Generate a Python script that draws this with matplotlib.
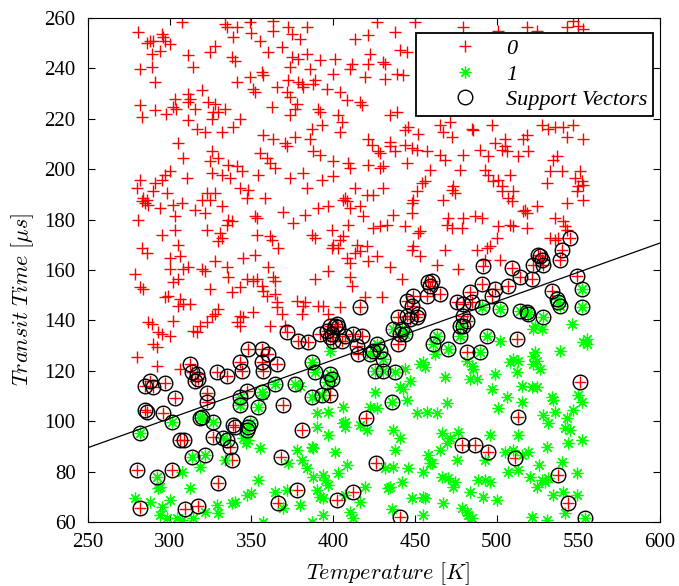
import matplotlib
matplotlib.use("Agg")
import matplotlib.pyplot as plt
import numpy as np

# ---------------- data ----------------
red_pts = [
(307.3,258.4),(333.8,257.6),(335,256.5),(341,256.4),(349,258.4),(363,259),(280.6,254.4),(295,253.5),(296,252.5),(288,251),(286,250),(290,251),(300,249.7),(297,251),(294,247),(289,245.7),(339,252.5),(350,254),(355,251),(363,255),(327.7,249),(324.7,246.5),(360,246.5),(311,245.3),(338,244.5),(340,243),(282,239.8),(289,240.5),(314,240.5),(341,234.6),(349,236.6),(356.5,238.6),(357,237.4),(351,231.8),(352,230.6),(365.7,232.6),(291,234.6),(319.8,231.4),(311,229.8),(312.4,227.9),(311,226.7),(303,227.9),(282,225.5),(291,223.5),(283,220.7),(298,222),(304,224),(302,224.7),(323.4,226.7),(327.7,225.9),(333.8,223.9),(326.5,222.7),(326,220),(329.6,222.7),(315.5,224),(311,219.5),(343,220),(338.7,216.7),(332,214.8),(317,216),(321.6,214.8),(362.6,224.7),(357,213.6),(363,212),
(372.4,256.4),(375,253.7),(384,256.4),(379.7,251.7),(427,258.4),(450,258.4),(438,254.4),(421.4,253.3),(413.4,251.7),(368.7,248.5),(441,247.3),(445,246.5),(422.6,245.7),(375,244.5),(378.5,243.7),(384,245.7),(392,243.3),(401,243.7),(411.6,241.7),(410.3,239.8),(421.4,241.7),(430.5,242.5),(431.8,241.7),(373.6,240.5),(385.8,239.8),(400,237.8),(419.5,236.6),(431.8,235.8),(439,237.8),(442.8,237.4),(372.4,235.4),(378.5,234.6),(381.6,232.6),(381,233.8),(389,235.4),(387.7,233.8),(396.3,231.8),(404,230.6),(408.5,227.5),(371.8,230.6),(373.6,228.6),(416.5,226.7),(417.7,225.5),(378,225.9),(376.7,224),(390.8,224),(392,222.7),(373.6,221.5),(403,221.5),(405.4,218.7),(439,222.7),(434.8,221.5),(393,217.5),(387,216),(404,214.8),(445.8,216.7),(444,215.5),(452,214),(376.7,212.8),(385.8,212),(421.4,212),(434.8,210.8),
(479.5,256.4),(501,255),(518.7,256.4),(524.8,255),(543,256.4),(546.8,259),(549.9,257),(553,255.6),
(465.4,217.5),(471.5,218.7),(467.3,214.8),(472.8,212.8),(485,216),(485.6,215.5),(497.2,217.5),(505,212),(518.7,213.6),(516.2,212),(527.8,217.5),(531.5,216),(535.8,216.7),(540.7,216.7),(546.8,217.5),(543,212.8),(553,212),
(305,210.4),(325.9,207.2),(324.7,203.3),(329.6,204.4),(308,204.4),(355,206.4),(359.5,204.4),(361.4,202.5),(364.4,200.5),(335.7,201.7),(341,201.3),(344,199.3),(325.9,198.5),(332,197.7),(337,196.5),(310.6,196.5),(354,197.7),(300,199.3),(297,197.7),(295.3,195.7),(281.8,195.7),(291,194.5),(280,192.5),(289.8,191.3),(298.3,190.6),(283.7,188.6),(285,186.6),(286.7,185.8),(286,187.8),(283,187.4),(294,184.6),(302,185.8),(307.5,186.6),(322.8,190.6),(327.7,190.6),(324.7,187.8),(319.8,187.8),(315.5,183.8),(321.6,182.6),(332,185.4),(343,192.5),(348,191.7),(347,188.6),(358.3,188.6),(303,181.4),(280.6,179.8),(335.7,179.8),(338,179.4),(335,177.9),(352,181.4),(353.4,180.6),(303,175.9),(322.8,175.9),(330.8,174.7),(332,172.7),(329.6,171.5),(295.3,173.9),(353.4,173.9),(361.4,173.5),(362.6,171.9),(305,169.9),(283,168.7),(286,166.7),(366.3,168.7),(300,164.8),(306,165.6),(327.7,163.6),(345,164.8),(352,166),
(370.6,210.4),(371.8,209.2),(423.8,209.6),(434.8,209.2),(437.9,207.2),(444,209.6),(448.3,208.4),(451.3,207.6),(457.5,207.2),(387.7,207.2),(392,205.6),(427.5,207.2),(428.7,206.4),(400,203.3),(409,202.5),(410.3,200.5),(421.4,201.7),(428.7,200.5),(430.5,201.3),(445,202.5),(459.3,199.7),(381.6,198.5),(373.6,196.5),(400,197.3),(393,195.7),(384,192.5),(413.4,192.5),(430.5,192.5),(454.4,194.5),(456.2,195.3),(451.3,191.3),(407.3,188.6),(408.5,187.4),(406,187.8),(420.7,189.8),(424.4,189.8),(448.9,187.8),(448.3,186.6),(396.9,185.4),(390.8,184.6),(410.3,184.6),(416.5,185.4),(418.3,181.4),(369.5,183),(382.8,181.8),(375.5,178.7),(436.6,181.8),(448.3,182.6),(409,177.9),(399.3,175.9),(424.4,176.7),(428.7,177.5),(433,177.9),(444,177.5),(387,173.9),(389,172.7),(406,173.5),(404,171.9),(452,174.7),(453.2,175.5),(400,169.9),(403,168.7),(399.3,168.7),(414.6,169.9),(416.5,167.5),(413.4,166.7),(420.7,169.5),(448.9,169.5),(448.3,168),(408.5,164.8),(410.3,162.8),(426.9,165.6),(421.4,163.6),(453.2,165.6),
(499,210.4),(505.2,209.2),(506.4,207.2),(503.4,207.6),(519.3,207.2),(489.9,207.6),(494.8,205.2),(513.2,205.2),(465.4,205.6),(468.5,203.7),(479.5,205.6),(477.7,199.7),(493,199.7),(494.8,197.7),(497.9,195.3),(503.4,193.3),(501,195.7),(508.3,197.7),(537,205.2),(534.6,203.7),(532.7,199.3),(540,199.3),(551,199.3),(548,196.5),(552.3,195.3),(553,193.7),(550,193.3),(549.3,191.3),(531,194.5),(473.4,193.3),(474.6,190.6),(472.8,191.7),(467.3,187.8),(503.4,191.3),(510.1,191.3),(507,188.6),(509.5,187.4),(543.1,186.6),(553,187.8),(517.4,183.8),(516.2,183.4),(518.7,182.6),(524.8,185.4),(486.8,181.4),(491.1,180.6),(479.5,180.6),(470.3,180.6),(469.7,177.9),(472.8,176.7),(478.9,176.7),(501,177.5),(508.3,177.9),(510.1,177.5),(518.7,176.7),(535.8,180.6),(540.7,179.4),(542,177.5),(543.1,175.9),(500.3,172.7),(468.5,167.9),(488,167.9),(494.2,168.7),(496,169.5),(502.1,164),(493,164),(532.7,172.7),(535.8,171.9),(537.6,172.7),(463.6,162),
(300,160.4),(308,160.4),(311,161.2),(319.8,160.4),(321.6,159.6),(278.8,158.4),(335,161.2),(335.7,157.2),(363.2,157.2),(364.4,155.6),(360,161.2),(302,155.2),(305,156.4),(281.8,153.3),(283.7,152.5),(324.7,152.5),(338,151.3),(343,153.3),(347.3,156.4),(351,155.6),(353.4,156.4),(356.5,153.7),(357,151.7),(359.5,149.7),(364.4,150.5),(297,149.3),(298.9,149.7),(306,148.5),(308,146.5),(305,145.7),(312.4,146.5),(365.7,147.3),(365.7,145.3),(329.6,144.5),(327.7,142.5),(326,141.7),(323,139.4),(351,143.3),(343,141.7),(345,141.3),(341,139.4),(343,137.8),(286.7,139.4),(289,138.6),(302,139.8),(292.8,135.4),(295.3,134.6),(300,133.8),(314.3,135.8),(316.7,135.4),(318.5,137.8),(361.4,137.8),(289.8,130.6),(292.2,129.4),(280,125.5),(292.2,121.9),(306,120.7),
(396.9,159.6),(389,156.4),(410.3,157.2),(411.6,153.7),(434.8,161.2),(442.1,156.4),(419.5,149.3),(430,149.3),(378,147.7),(382.8,147.3),(381.6,145.7),(390.8,145.7),(393.8,145.7),(404,145.3),(381,142.5),(396.9,142.5),(368.7,142.5),(370.6,137.8),(476.4,160.4),
]

green_pts = [
(398.1,127.9),(379.7,114),(444,120.7),(447,116),(441,113.6),(442.8,112.8),(453.2,122.7),(455,123.5),(456.2,121.5),
(546.2,138.6),(523.6,137.8),(527.8,136.6),(522.3,136.6),(555.4,132.6),(555.4,130.6),(553,131.4),(502,131.8),(538.8,127.9),(523.6,127.5),(522.3,125.9),(510,124.7),(513.2,124),(508.3,123.5),(524.8,124),(522.3,122.7),(526.6,120.7),(485,121.9),(485.6,120.7),(488,116.7),(483.8,116.7),(482,124),(499,118.7),(512.6,119.5),(468.5,117.5),(497.2,112.8),(515.6,114),(521.7,113.6),(524.8,113.6),(462.4,126.7),
(357,110.4),(307.5,79.8),(318.5,81.8),(354,76.7),(312.4,73.5),(294,74),(292.8,73.5),(278.8,69.5),(288,67.9),(300,68.7),(295.3,66),(294,62.8),(298.3,61.6),(304.4,61.6),(307.5,60.8),(314.3,61.6),(321.6,64),(329,66.7),(329.6,63.6),(338,67.5),(340,67.9),(347.3,70.7),(350,71.5),(364.4,72),(357,60),(345,93.3),(348,92.5),(346.7,91.3),(355,89.4),(333.8,84.6),
(425.6,111.6),(445.2,108.4),(406,105.6),(422.6,105.6),(426.9,105.2),(390.2,103.3),(397,103.7),(451.3,103.3),(457.5,103.7),(407.3,99.7),(406,99.3),(407.3,97.7),(390.2,97.7),(416.5,98.5),(420.7,96.5),(397,94.5),(436.6,96.5),(441,93.3),(437.9,88.6),(387,89.7),(387.7,89.4),(377.9,88.6),(401.2,87.8),(381,84.6),(372.4,83.4),(408.5,82.6),(384,81.4),(387.7,77.8),(393.8,78.6),(395,76.7),(403,79.4),(397,74.7),(390.2,72.7),(392,69.9),(393.8,69.5),(371.8,72.7),(431.8,81.4),(436.6,81.8),(445.8,81.4),(455,79.8),(459.3,83.4),(458,86.6),(433.6,73.5),(434.8,73.9),(442.2,75.9),(419.5,73.9),(416.5,68),(407.3,70.7),(379.7,66.7),(369.3,65.5),(393.8,62.8),(410.3,64),(412.2,61.6),(448.3,69.5),(455,70),(456.2,69.5),(436,65.2),(455,62.8),(387,60),
(506.4,109.6),(515.6,107.6),(469.7,107.2),(463.6,103.3),(501,105.2),(534,109.6),(534.6,108.4),(549.9,110.4),(552.3,107.6),(528.5,102.5),(531.5,99.3),(535.8,103.7),(546.8,104.4),(543.1,101.3),(542,97.3),(545,96.5),(552.3,92.5),(543.8,91.3),(466.6,95.3),(476.4,95.7),(471.5,93.3),(469.7,91.3),(465.4,88.6),(496,94.5),(513.2,94.5),(505.2,87.8),(510.1,88.6),(519.3,87.8),(515.6,86.6),(530.9,89.7),(475.8,84.6),(460.5,83.4),(493,84.6),(526,82.6),(540,83.8),(466.6,77.8),(470.3,77.4),(474.6,75.9),(473.4,73.9),(488.7,76.7),(493,76.7),(496,75.9),(507,79.8),(513.2,80.6),(520.5,77.8),(527.8,76.7),(529.7,75.9),(531.5,77.4),(549.3,79.4),(524.8,73.9),(483.8,72),(491.7,69.9),(500.3,68.7),(534.6,70.7),(540.7,72),(549.3,70.7),(467.3,67.5),(478.9,65.5),(482,64),(482.6,62.8),(485,61.6),(483.8,60),(521.7,62),(530.9,60.8),(542,63.6),
]

# support vectors: (temperature, transit time, class)
sv_pts = [
(545,172.7,0),(540,167.9,0),(538.8,164,0),(526.6,165.6,0),(525.4,166,0),(527.8,164,0),(522.3,162,0),(528.5,162,0),(491.7,161.4,0),(509.5,160.8,0),
(514.4,157.2,0),(521.7,156.4,0),(549.3,157.6,0),(465.4,150.5,0),(483.8,151.3,0),(491.1,154.4,0),(499,152.5,0),(497.2,149.7,0),(507,153.7,0),(534,151.7,0),(537,148.5,1),(537.6,147.3,1),(538.8,145.7,1),(552.3,152.5,1),(552.3,145.3,1),(475.8,147.3,0),(479.5,146.5,0),(485,147.3,0),(491.1,145.3,1),(479.5,141.7,0),(482,139.8,0),(477.7,137.8,1),(479.5,137.8,0),(514.4,143.7,1),(518.7,143.3,1),(519.3,142.5,1),(528.5,141.3,1),(477.7,133.8,1),(494.2,133.8,1),(463.6,133.8,1),(461.2,130.6,1),(470.3,128.6,1),(512.6,132.6,0),(482,127.5,0),(490,127.5,1),(551,115.5,0),(502,144.5,1),
(458,155.2,0),(459.3,153.7,0),(460.5,155.6,0),(448.9,149.7,0),(457.5,149.7,0),(416.5,145.3,0),(445,147.7,0),(448.3,145.7,0),(452,142.5,0),(451.3,141.3,0),(447,140.5,0),(445,141.7,0),(439.7,141.3,0),(398.1,137.8,0),(401.2,137.8,0),(402.4,138.6,0),(403,137.4,0),(396.3,135.8,0),(399.3,134.6,0),(398.1,133.4,0),(400,131.8,0),(405.4,131.8,0),(407.3,133.8,0),(412.2,134.6,0),(417.7,133.8,0),(392,134.6,0),(384.6,131.4,0),(378.5,131.8,0),(371.8,135.4,0),(442.1,136.6,1),(444,134.6,1),(441,134.6,0),(436.6,136.6,1),(414.6,129.8,0),(415.2,126.7,0),(439.7,130.6,0),(426.9,130.6,1),(428.7,127.9,1),(424.4,127.9,0),(422.6,126.7,1),(430.5,124.7,1),(425.6,120,1),(430.5,120,1),(437.9,119.5,1),(387,123.5,1),(389,119.5,1),(398.1,118.7,1),(399.3,116.7,1),(396.3,115.5,1),(376.7,114.8,1),
(348,128.6,0),(356.5,128.6,0),(360,126.7,0),(343,123.5,0),(344,120,0),(356.5,123.5,0),(357,120,0),(365.7,122.7,0),(312.4,122.7,0),(313.6,119.5,0),(316.7,118.7,0),(317.3,116.7,0),(315.5,116,0),(329,119.5,0),(335,117.9,0),(288,116,0),(285,114,0),(289.8,113.6,0),(297,115,0),(347.3,112,0),(364.4,114.8,1),(356.5,111.6,1),
(303,109.2,0),(285,104.4,0),(286,103.6,0),(295.9,103.2,0),(301.4,99.7,1),(281.8,95.3,1),(318.5,101.3,1),(319.8,101.7,1),(326.5,99.7,1),(322.8,107.6,0),(322.8,111.2,0),(343,109.6,1),(343,106.4,1),(354,105.6,1),(326.5,93.7,0),(335,92.5,1),(332.6,93.3,1),(336.9,89.7,0),(338.7,98.5,0),(340,97.7,0),(347.9,97.7,1),(349,99.3,1),(347.3,96.5,1),(306,92.5,0),(309,92.5,0),(313.6,85.8,1),(321.6,86.6,1),(338,84.6,0),(368,85.8,0),(280,80.6,0),(292.2,78,1),(301.4,80.6,0),(329.6,75.5,0),(366.5,67.7,0),(281.8,65.6,0),(309.4,65.2,0),(317.3,66.3,0),
(369.3,106.4,0),(387,109.6,1),(393,110.4,1),(398,110.4,0),(436,107.6,1),(420,101.3,0),(381,96.7,0),(426.3,83.4,0),(377.9,72.7,0),(412,72,0),(402.4,68.7,0),(441,62,0),
(513.2,101.7,0),(478.9,90.6,0),(487,90.6,0),(494.8,87.8,0),(511.3,85.4,0),(537.6,78.7,0),(543.8,67.6,0),(554.2,61.6,1),
]

boundary_x = [250, 600]
boundary_y = [89.5, 170.7]

legend_labels = ["0", "1", "Support Vectors"]
x_ticks = [250, 300, 350, 400, 450, 500, 550, 600]
y_ticks = [60, 80, 100, 120, 140, 160, 180, 200, 220, 240, 260]

# ---------------- plot ----------------
plt.rcParams['mathtext.fontset'] = 'cm'
plt.rcParams['font.family'] = ['Liberation Serif', 'DejaVu Serif']

fig = plt.figure(figsize=(6.79, 5.86), dpi=100)
ax = fig.add_axes([88/679, 1-522/586, 572/679, 504/586])

red = np.array(red_pts)
green = np.array(green_pts)
sv = np.array(sv_pts)
sv_red = sv[sv[:, 2] == 0]
sv_green = sv[sv[:, 2] == 1]

red_all = np.vstack([red, sv_red[:, :2]])
green_all = np.vstack([green, sv_green[:, :2]])

ax.plot(red_all[:, 0], red_all[:, 1], linestyle='none', marker='+', color='red',
        markersize=9, markeredgewidth=1.0, label=legend_labels[0])
ax.plot(green_all[:, 0], green_all[:, 1], linestyle='none', marker=(8, 2, 0), color=(0, 1, 0),
        markersize=8.5, markeredgewidth=0.9, label=legend_labels[1])
ax.plot(sv[:, 0], sv[:, 1], linestyle='none', marker='o', markerfacecolor='none',
        markeredgecolor='black', markersize=10.5, markeredgewidth=1.0, label=legend_labels[2])
ax.plot(boundary_x, boundary_y, color='black', linewidth=0.9)

ax.set_xlim(250, 600)
ax.set_ylim(60, 260)
ax.set_xticks(x_ticks)
ax.set_yticks(y_ticks)
ax.tick_params(direction='in', top=True, right=True, labelsize=15, length=5, width=0.8)
ax.tick_params(axis='x', pad=8)
ax.tick_params(axis='y', pad=9)
for s in ax.spines.values():
    s.set_linewidth(0.8)

ax.set_xlabel(r'$Temperature\ [K]$', fontsize=16)
ax.set_ylabel(r'$Transit\ Time\ [\mu s]$', fontsize=16)
ax.xaxis.set_label_coords((388-88)/572, -(560-522)/504)
ax.yaxis.set_label_coords(-(88-36)/572, (522-299)/504)

leg = ax.legend(loc='upper right', bbox_to_anchor=((653-88)/572, (522-33)/504),
                fancybox=False, framealpha=1, edgecolor='black', borderaxespad=0,
                prop={'style': 'italic', 'size': 16}, labelspacing=0.22,
                handlelength=3.9, handletextpad=-0.1, borderpad=0.25)
leg.get_frame().set_linewidth(1.3)

fig.savefig('out.png', dpi=100)
